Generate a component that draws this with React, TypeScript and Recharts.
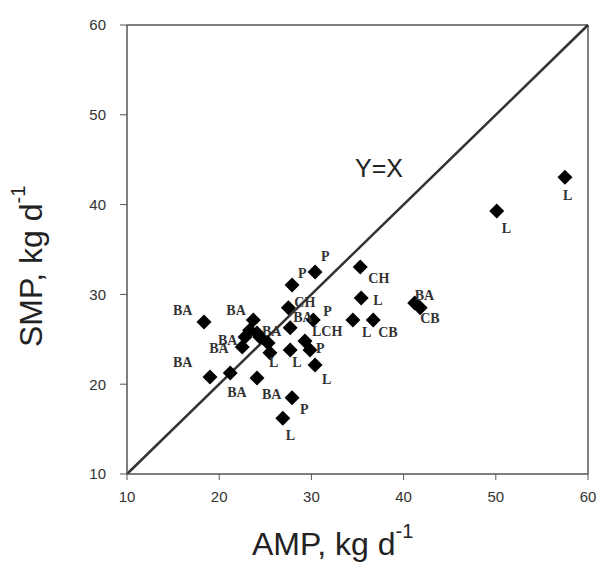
import React from "react";
import { ScatterChart, Scatter, XAxis, YAxis, ReferenceLine, Label } from "recharts";

// AMP (x) and SMP (y) values, kg/d, with group labels
const ampValues = [18.35, 19.0, 21.2, 24.1, 27.9, 26.9, 23.7, 23.3, 22.8, 22.5, 24.1, 24.4, 25.3, 25.5, 27.5, 27.9, 30.4, 30.2, 27.7, 29.3, 29.85, 30.4, 35.3, 35.4, 34.5, 36.7, 41.2, 41.8, 50.1, 57.5, 27.7];
const smpValues = [26.93, 20.8, 21.25, 20.7, 18.5, 16.2, 27.15, 26.0, 25.25, 24.15, 25.7, 25.25, 24.6, 23.5, 28.5, 31.05, 32.5, 27.15, 23.8, 24.8, 23.8, 22.15, 33.05, 29.6, 27.15, 27.15, 29.05, 28.5, 39.3, 43.05, 26.3];
const groupLabels = ["BA", "BA", "BA", "BA", "P", "L", "BA", "", "BA", "BA", "BA", "", "", "L", "CH", "P", "P", "P", "L", "LCH", "P", "L", "CH", "L", "L", "CB", "BA", "CB", "L", "L", "BA"];
const axisTicks = [10, 20, 30, 40, 50, 60];

// layout only: label offsets (px) relative to each marker
const labelOffsets: [number, number][] = [
  [-31, -7], [-37, -10], [-3, 24], [5, 21], [8, 16], [3, 22], [-27, -5], [0, 0], [-27, 8], [-33, 6],
  [5, 3], [0, 0], [0, 0], [-1, 14], [6, -1], [6, -7], [6, -11], [10, -4], [2, 17], [7, -5],
  [6, 3], [7, 19], [8, 16], [12, 7], [9, 17], [5, 17], [0, -3], [0, 15], [5, 22], [-2, 23], [3, -6],
];

const data = ampValues.map((a, i) => ({ amp: a, smp: smpValues[i], group: groupLabels[i], idx: i }));

const Diamond = (props: any) => {
  const { cx, cy, payload } = props;
  if (cx == null || cy == null) return null;
  const r = 7.5;
  const off = labelOffsets[payload.idx] || [0, 0];
  return (
    <g>
      <polygon points={`${cx},${cy - r} ${cx + r},${cy} ${cx},${cy + r} ${cx - r},${cy}`} fill="#000" />
      {payload.group ? (
        <text x={cx + off[0]} y={cy + off[1]} fontFamily="Liberation Serif" fontWeight="bold" fontSize={14} fill="#333">
          {payload.group}
        </text>
      ) : null}
    </g>
  );
};

const tickStyle = { fill: "#333", fontSize: 15, fontFamily: "Liberation Sans" };

export default function App() {
  return (
    <div style={{ position: "absolute", left: 0, top: 0, width: 598, height: 562, overflow: "hidden" }}>
      <ScatterChart width={598} height={562} margin={{ top: 25, right: 10, bottom: 58, left: 67 }}>
        <XAxis
          type="number"
          dataKey="amp"
          domain={[10, 60]}
          ticks={axisTicks}
          allowDataOverflow
          height={30}
          tickSize={6}
          tickMargin={11}
          tick={tickStyle}
          axisLine={{ stroke: "#555", strokeWidth: 1.5 }}
          tickLine={{ stroke: "#555" }}
        >
          <Label
            content={() => (
              <text x={252} y={555} fontFamily="Liberation Sans" fontSize={32} fill="#222">
                AMP, kg d
                <tspan fontSize={20} dy={-17}>-1</tspan>
              </text>
            )}
          />
        </XAxis>
        <YAxis
          type="number"
          dataKey="smp"
          domain={[10, 60]}
          ticks={axisTicks}
          allowDataOverflow
          width={60}
          tickSize={7}
          tickMargin={14}
          tick={tickStyle}
          axisLine={{ stroke: "#555", strokeWidth: 1.5 }}
          tickLine={{ stroke: "#555" }}
        >
          <Label
            content={() => (
              <text x={42} y={347} transform="rotate(-90 42 347)" fontFamily="Liberation Sans" fontSize={32} fill="#222">
                SMP, kg d
                <tspan fontSize={20} dy={-17}>-1</tspan>
              </text>
            )}
          />
        </YAxis>
        <ReferenceLine x={60} stroke="#555" strokeWidth={1.5} />
        <ReferenceLine y={60} stroke="#555" strokeWidth={1.5} />
        <ReferenceLine
          segment={[{ x: 10, y: 10 }, { x: 60, y: 60 }]}
          stroke="#333"
          strokeWidth={2.5}
        >
          <Label
            content={() => (
              <text x={355} y={177} fontFamily="Liberation Sans" fontSize={25} fill="#222">
                Y=X
              </text>
            )}
          />
        </ReferenceLine>
        <Scatter data={data} shape={<Diamond />} isAnimationActive={false} />
      </ScatterChart>
    </div>
  );
}
